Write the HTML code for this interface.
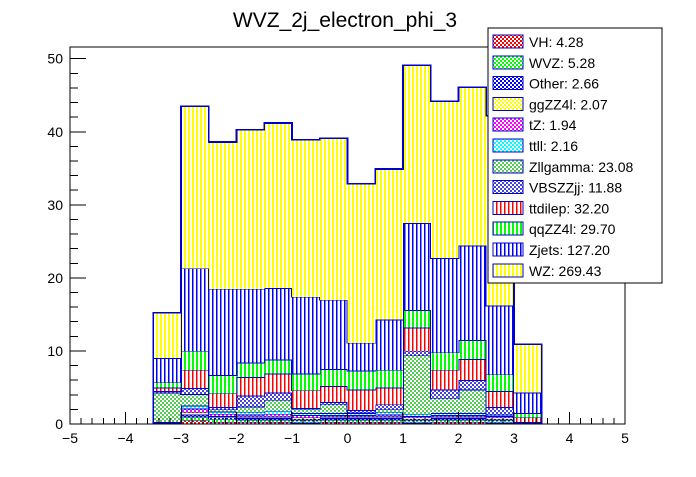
<!DOCTYPE html>
<html><head><meta charset="utf-8"><style>
body{margin:0;background:#fff;}
svg text{font-family:"Liberation Sans",sans-serif;}
</style></head><body>
<svg id="c" width="696" height="472" xmlns="http://www.w3.org/2000/svg" shape-rendering="crispEdges">
<defs>
<pattern id="p-vert-yellow" width="4" height="4" patternUnits="userSpaceOnUse"><rect width="4" height="4" fill="#fff"/><rect width="2" height="4" fill="#ffff00"/></pattern>
<pattern id="p-vert-blue" width="4" height="4" patternUnits="userSpaceOnUse"><rect width="4" height="4" fill="#fff"/><rect width="1.5" height="4" fill="#0000ff"/></pattern>
<pattern id="p-vert-green" width="4" height="4" patternUnits="userSpaceOnUse"><rect width="4" height="4" fill="#fff"/><rect width="2" height="4" fill="#00ff00"/></pattern>
<pattern id="p-vert-red" width="4" height="4" patternUnits="userSpaceOnUse"><rect width="4" height="4" fill="#fff"/><rect width="1.5" height="4" fill="#ff0000"/></pattern>
<pattern id="c-red" width="4" height="4" patternUnits="userSpaceOnUse"><rect width="4" height="4" fill="#fff"/><rect width="2" height="2" fill="#ff0000"/><rect x="2" y="2" width="2" height="2" fill="#ff0000"/></pattern>
<pattern id="c-green" width="4" height="4" patternUnits="userSpaceOnUse"><rect width="4" height="4" fill="#fff"/><rect width="2" height="2" fill="#00ff00"/><rect x="2" y="2" width="2" height="2" fill="#00ff00"/></pattern>
<pattern id="c-blue" width="4" height="4" patternUnits="userSpaceOnUse"><rect width="4" height="4" fill="#fff"/><rect width="2" height="2" fill="#0000ff"/><rect x="2" y="2" width="2" height="2" fill="#0000ff"/></pattern>
<pattern id="c-yellow" width="4" height="4" patternUnits="userSpaceOnUse"><rect width="4" height="4" fill="#fff"/><rect width="2" height="2" fill="#ffff00"/><rect x="2" y="2" width="2" height="2" fill="#ffff00"/></pattern>
<pattern id="c-magenta" width="4" height="4" patternUnits="userSpaceOnUse"><rect width="4" height="4" fill="#fff"/><rect width="2" height="2" fill="#ff00ff"/><rect x="2" y="2" width="2" height="2" fill="#ff00ff"/></pattern>
<pattern id="c-cyan" width="4" height="4" patternUnits="userSpaceOnUse"><rect width="4" height="4" fill="#fff"/><rect width="2" height="2" fill="#00ffff"/><rect x="2" y="2" width="2" height="2" fill="#00ffff"/></pattern>
<pattern id="c-zll" width="4" height="4" patternUnits="userSpaceOnUse"><rect width="4" height="4" fill="#fff"/><rect width="2" height="2" fill="#55cc55"/><rect x="2" y="2" width="2" height="2" fill="#55cc55"/></pattern>
<pattern id="c-vbs" width="4" height="4" patternUnits="userSpaceOnUse"><rect width="4" height="4" fill="#fff"/><rect width="2" height="2" fill="#4444dd"/><rect x="2" y="2" width="2" height="2" fill="#4444dd"/></pattern>
</defs>
<text x="345" y="27" font-size="21" text-anchor="middle" shape-rendering="auto">WVZ_2j_electron_phi_3</text>
<g id="bars"></g>
<g id="axes"></g>
<g id="legend"></g>
</svg>
<script>
const binEdges = [-3.5,-3,-2.5,-2,-1.5,-1,-0.5,0,0.5,1,1.5,2,2.5,3,3.5];
const VH      = [0.05,0.5,0.3,0.3,0.3,0.2,0.3,0.3,0.3,0.2,0.3,0.3,0.2,0.05];
const WVZ     = [0.05,0.5,0.4,0.3,0.3,0.3,0.3,0.3,0.3,0.3,0.3,0.3,0.3,0.05];
const Other   = [0.05,0.3,0.2,0.2,0.2,0.2,0.2,0.2,0.2,0.2,0.2,0.2,0.2,0.05];
const ggZZ4l  = [0.05,0.3,0.2,0.2,0.2,0.2,0.2,0.2,0.2,0.2,0.2,0.2,0.2,0.05];
const tZ      = [0.05,0.5,0.3,0.3,0.4,0.3,0.2,0.2,0.3,0.2,0.2,0.2,0.2,0.05];
const ttll    = [0.05,0.4,0.3,0.3,0.4,0.3,0.3,0.3,0.3,0.3,0.3,0.3,0.2,0.05];
const Zllgamma= [4.0,1.6,0.3,0.8,1.5,0.6,1.2,0.1,0.4,8.0,2.0,3.2,0.0,0.0];
const VBSZZjj = [0.2,0.8,0.3,1.5,1.0,0.1,0.3,0.3,0.7,0.6,1.2,1.3,1.0,0.0];
const ttdilep = [0.5,2.5,1.9,2.5,2.6,2.4,2.2,2.8,2.3,3.2,2.7,2.9,2.2,0.6];
const qqZZ4l  = [0.7,2.6,2.5,2.0,1.9,2.3,2.3,2.6,2.4,2.4,2.4,2.6,2.3,0.6];
const Zjets   = [3.3,11.3,11.8,10.1,9.8,10.5,9.5,3.8,6.9,11.9,12.9,12.9,9.4,2.8];
const WZ      = [6.2,22.2,20.1,21.8,22.6,21.5,22.1,21.8,20.6,21.6,21.5,21.7,26.0,6.6];
const seriesNames = ["VH","WVZ","Other","ggZZ4l","tZ","ttll","Zllgamma","VBSZZjj","ttdilep","qqZZ4l","Zjets","WZ"];
const seriesVals = [VH,WVZ,Other,ggZZ4l,tZ,ttll,Zllgamma,VBSZZjj,ttdilep,qqZZ4l,Zjets,WZ];
const legendLabels = ["VH: 4.28","WVZ: 5.28","Other: 2.66","ggZZ4l: 2.07","tZ: 1.94","ttll: 2.16","Zllgamma: 23.08","VBSZZjj: 11.88","ttdilep: 32.20","qqZZ4l: 29.70","Zjets: 127.20","WZ: 269.43"];
const xTicks = [-5,-4,-3,-2,-1,0,1,2,3,4,5];
const yTicks = [0,10,20,30,40,50];
const fills = ["url(#c-red)","url(#c-green)","url(#c-blue)","url(#c-yellow)","url(#c-magenta)","url(#c-cyan)","url(#c-zll)","url(#c-vbs)","url(#p-vert-red)","url(#p-vert-green)","url(#p-vert-blue)","url(#p-vert-yellow)"];
const NS="http://www.w3.org/2000/svg";
const X0=70,X1=625,Y0=424,YT=47,xmin=-5,xmax=5,ymin=0,ymax=51.6;
const sx=v=>X0+(v-xmin)/(xmax-xmin)*(X1-X0);
const sy=v=>Y0-(v-ymin)/(ymax-ymin)*(Y0-YT);
function mk(tag,attrs,parent){const e=document.createElementNS(NS,tag);for(const k in attrs)e.setAttribute(k,attrs[k]);parent.appendChild(e);return e;}
const bars=document.getElementById('bars');
const cum=new Array(binEdges.length-1).fill(0);
seriesVals.forEach((vals,s)=>{
  let d="";
  vals.forEach((v,i)=>{
    const lo=cum[i],hi=cum[i]+v;cum[i]=hi;
    const r=mk('rect',{x:sx(binEdges[i]),y:sy(hi),width:sx(binEdges[i+1])-sx(binEdges[i]),height:Math.max(0,sy(lo)-sy(hi)),fill:fills[s]},bars);
    
    
    d+=(i===0?"M"+sx(binEdges[i])+","+sy(0)+" L":" L")+sx(binEdges[i])+","+sy(hi)+" L"+sx(binEdges[i+1])+","+sy(hi);
  });
  d+=" L"+sx(binEdges[binEdges.length-1])+","+sy(0);
  const p=mk('path',{d:d,fill:"none",stroke:"#0000cc","stroke-width":1.6},bars);
  
  
});
const ax=document.getElementById('axes');
const frame=mk('rect',{x:X0,y:YT,width:X1-X0,height:Y0-YT,fill:"none",stroke:"#000","stroke-width":1},ax);


for(let k=0;k<=50;k++){const v=xmin+k*0.2;const big=k%5===0;mk('line',{x1:sx(v),x2:sx(v),y1:Y0,y2:Y0-(big?12:6),stroke:"#000"},ax);}
xTicks.forEach(v=>{const t=mk('text',{x:sx(v),y:Y0+19,"font-size":14,"text-anchor":"middle","shape-rendering":"auto"},ax);t.textContent=(v<0?"\u2212"+(-v):v);

});
for(let k=0;k<=25;k++){const v=k*2;if(v>ymax)break;const big=v%10===0;mk('line',{x1:X0,x2:X0+(big?16:8),y1:sy(v),y2:sy(v),stroke:"#000"},ax);}
yTicks.forEach(v=>{const t=mk('text',{x:X0-7,y:sy(v)+5,"font-size":14,"text-anchor":"end"},ax);t.textContent=v;

});
const lg=document.getElementById('legend');
const box=mk('rect',{x:488,y:28,width:174,height:255,fill:"#fff",stroke:"#000"},lg);


legendLabels.forEach((lab,i)=>{
  const y=33+i*20.8;
  const sw=mk('rect',{x:493,y:y+2,width:30,height:13,fill:fills[i],stroke:"#0000cc","stroke-width":1},lg);
  
  
  const t=mk('text',{x:529,y:y+14,"font-size":14},lg);t.textContent=lab;
  
  
});
</script>
</body></html>
